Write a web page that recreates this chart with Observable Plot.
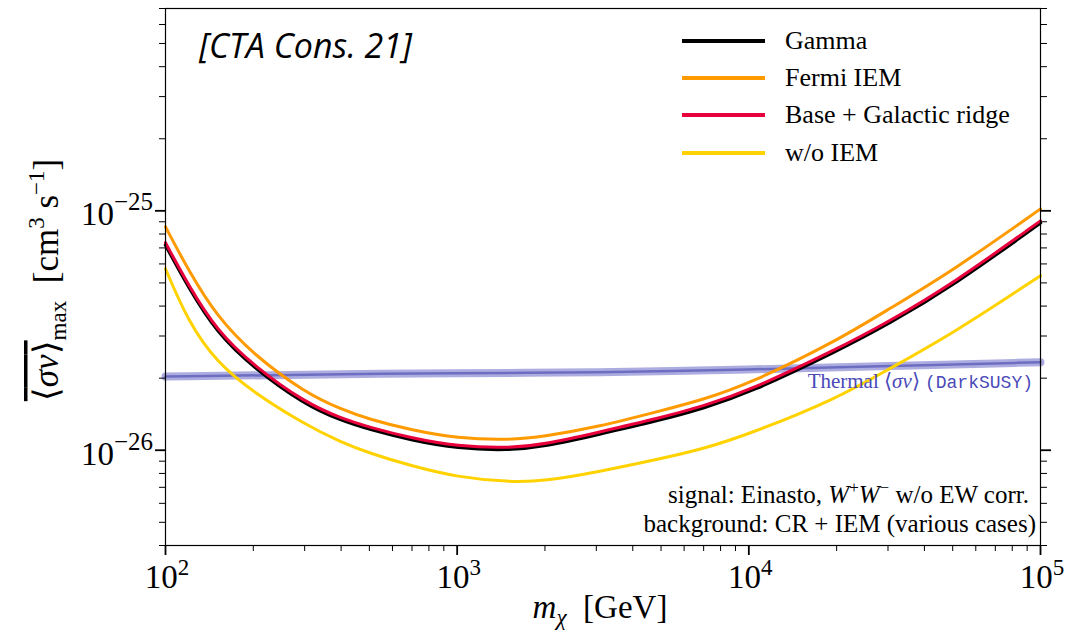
<!DOCTYPE html>
<html><head><meta charset="utf-8">
<script src="https://cdn.jsdelivr.net/npm/d3@7"></script>
<script src="https://cdn.jsdelivr.net/npm/@observablehq/plot@0.6"></script>
<style>
html,body{margin:0;padding:0;background:#fff;}
#chart{width:1068px;height:634px;}
svg{display:block;}
</style></head><body><div id="chart"></div>
<script>
// ---- data ----
const masses = [100,120,150,200,300,400,500,700,1000,1500,2000,3000,5000,7000,10000,20000,30000,50000,100000];
const gamma = [7.2e-26,4.77e-26,3.1e-26,2.215e-26,1.553e-26,1.332e-26,1.222e-26,1.1e-26,1.018e-26,0.999e-26,1.038e-26,1.159e-26,1.339e-26,1.5e-26,1.735e-26,2.59e-26,3.36e-26,4.86e-26,8.9e-26];
const fermiIEM = [8.58e-26,5.62e-26,3.62e-26,2.51e-26,1.744e-26,1.483e-26,1.346e-26,1.212e-26,1.122e-26,1.101e-26,1.144e-26,1.247e-26,1.462e-26,1.631e-26,1.891e-26,2.86e-26,3.87e-26,5.62e-26,1.019e-25];
const baseRidge = [7.36e-26,4.87e-26,3.16e-26,2.26e-26,1.585e-26,1.359e-26,1.247e-26,1.122e-26,1.039e-26,1.019e-26,1.059e-26,1.183e-26,1.366e-26,1.531e-26,1.77e-26,2.64e-26,3.43e-26,4.96e-26,9.08e-26];
const woIEM = [5.73e-26,3.41e-26,2.326e-26,1.744e-26,1.283e-26,1.08e-26,9.72e-27,8.58e-27,7.72e-27,7.36e-27,7.43e-27,8.09e-27,9.22e-27,1.014e-26,1.166e-26,1.64e-26,2.175e-26,3.07e-26,5.36e-26];
const thermalMasses = [100,300,1000,3000,10000,30000,100000];
const thermal = [2.03e-26,2.07e-26,2.10e-26,2.11e-26,2.17e-26,2.25e-26,2.33e-26];

const seriesNames = ["Gamma","Fermi IEM","Base + Galactic ridge","w/o IEM"];
const seriesColors = ["#000000","#ff9a00","#e8003c","#ffd200"];
const xMajor = [100,1000,10000,100000];
const xMinor = [200,300,400,500,600,700,800,900,2000,3000,4000,5000,6000,7000,8000,9000,20000,30000,40000,50000,60000,70000,80000,90000];
const yMajor = [1e-26,1e-25];
const yMinor = [4e-27,5e-27,6e-27,7e-27,8e-27,9e-27,2e-26,3e-26,4e-26,5e-26,6e-26,7e-26,8e-26,9e-26,2e-25,3e-25,4e-25,5e-25,6e-25,7e-25];
const xTickExp = ["2","3","4","5"];
const yTickExp = ["−26","−25"];

// ---- tables ----
const seriesValues = [gamma, fermiIEM, baseRidge, woIEM];
const rows = [];
seriesNames.forEach((s,k)=>masses.forEach((m,i)=>rows.push({series:s, m, v:seriesValues[k][i]})));
const thermalRows = thermalMasses.map((m,i)=>({m, v:thermal[i]}));
const bySeries = s => rows.filter(d=>d.series===s);

const W=1068, H=634;
const lineOf = (s,c,w)=>Plot.line(bySeries(s),{x:"m",y:"v",stroke:c,strokeWidth:w,curve:"basis"});

const chart = Plot.plot({
  width:W, height:H,
  marginLeft:165, marginRight:28, marginTop:8, marginBottom:89,
  style:{background:"#fff", fontFamily:"'Liberation Serif', serif", overflow:"visible"},
  x:{type:"log", domain:[100,1e5]},
  y:{type:"log", domain:[4e-27,7e-25]},
  marks:[
    Plot.line(thermalRows,{x:"m",y:"v",stroke:"#5a5ac4",strokeWidth:8,strokeOpacity:0.5,curve:"basis"}),
    Plot.line(thermalRows,{x:"m",y:"v",stroke:"#3a3aa8",strokeWidth:2.5,strokeOpacity:0.55,curve:"basis"}),
    lineOf("w/o IEM", seriesColors[3], 3),
    lineOf("Fermi IEM", seriesColors[1], 3),
    lineOf("Gamma", seriesColors[0], 3.4),
    lineOf("Base + Galactic ridge", seriesColors[2], 3),
    Plot.axisX({ticks:xMajor, tickSize:10, strokeWidth:1.8, tickFormat:()=>"", label:null}),
    Plot.axisX({ticks:xMinor, tickSize:6, strokeWidth:1, tickFormat:()=>"", label:null}),
    Plot.axisY({anchor:"left", ticks:yMajor, tickSize:10, strokeWidth:1.8, tickFormat:()=>"", label:null}),
    Plot.axisY({anchor:"left", ticks:yMinor, tickSize:6, strokeWidth:1, tickFormat:()=>"", label:null}),
    Plot.axisY({anchor:"right", ticks:yMajor, tickSize:10, strokeWidth:1.8, tickFormat:()=>"", label:null}),
    Plot.axisY({anchor:"right", ticks:yMinor, tickSize:6, strokeWidth:1, tickFormat:()=>"", label:null}),
    Plot.frame({stroke:"#000", strokeWidth:1.2})
  ]
});
document.getElementById("chart").appendChild(chart);

const sx = chart.scale("x"), sy = chart.scale("y");
const svg = d3.select(chart);
const serif = "'Liberation Serif', serif";

// x tick labels
xMajor.forEach((v,i)=>{
  const t = svg.append("text").attr("x", sx.apply(v)+2).attr("y", 588)
    .attr("text-anchor","middle").attr("font-family",serif).attr("font-size",33).attr("fill","#000");
  t.append("tspan").text("10");
  t.append("tspan").attr("dy",-13).attr("font-size",23).text(xTickExp[i]);
});
// y tick labels
yMajor.forEach((v,i)=>{
  const t = svg.append("text").attr("x", 153).attr("y", sy.apply(v)+15)
    .attr("text-anchor","end").attr("font-family",serif).attr("font-size",33).attr("fill","#000");
  t.append("tspan").text("10");
  t.append("tspan").attr("dy",-15).attr("font-size",25).text(yTickExp[i]);
});

// x title
{
  const t = svg.append("text").attr("x", 600).attr("y", 618).attr("text-anchor","middle")
    .attr("font-family",serif).attr("font-size",33).attr("fill","#000").attr("xml:space","preserve");
  t.append("tspan").attr("font-style","italic").text("m");
  t.append("tspan").attr("font-style","italic").attr("font-size",23).attr("dy",7).text("χ");
  t.append("tspan").attr("dy",-7).text("  [GeV]");
}
// y title (rotated)
{
  const t = svg.append("text").attr("transform","translate(58,280) rotate(-90)").attr("text-anchor","middle")
    .attr("font-family",serif).attr("font-size",35).attr("fill","#000").attr("xml:space","preserve");
  const ov = t.append("tspan").attr("text-decoration","overline");
  ov.append("tspan").text("⟨");
  ov.append("tspan").attr("font-style","italic").text("σv");
  ov.append("tspan").text("⟩");
  t.append("tspan").attr("font-size",23).attr("dy",8).text("max");
  t.append("tspan").attr("dy",-8).text("  [cm");
  t.append("tspan").attr("font-size",23).attr("dy",-14).text("3");
  t.append("tspan").attr("dy",14).text(" s");
  t.append("tspan").attr("font-size",23).attr("dy",-14).text("−1");
  t.append("tspan").attr("dy",14).text("]");
}

// CTA label
svg.append("text").attr("x",199).attr("y",58).attr("text-anchor","start")
  .attr("font-family","'Open Sans', sans-serif")
  .attr("font-style","italic").attr("font-size",34).attr("fill","#000").text("[CTA Cons. 21]");

// legend
const legY = [41,78,115,153];
seriesNames.forEach((s,i)=>{
  svg.append("line").attr("x1",682).attr("x2",765).attr("y1",legY[i]).attr("y2",legY[i])
    .attr("stroke",seriesColors[i]).attr("stroke-width",4);
  svg.append("text").attr("x",785).attr("y",legY[i]+8).attr("text-anchor","start")
    .attr("font-family",serif).attr("font-size",26).attr("fill","#000").text(s);
});

// thermal label
{
  const t = svg.append("text").attr("x",1033).attr("y",388).attr("text-anchor","end")
    .attr("fill","#4a4ab8").attr("font-family",serif).attr("font-size",21).attr("xml:space","preserve");
  t.append("tspan").text("Thermal ⟨");
  t.append("tspan").attr("font-style","italic").text("σv");
  t.append("tspan").text("⟩ ");
  t.append("tspan").attr("font-family","'Liberation Mono', monospace").attr("font-size",18).text("(DarkSUSY)");
}
// annotation
{
  const t1 = svg.append("text").attr("x",1029).attr("y",503).attr("text-anchor","end")
    .attr("font-family",serif).attr("font-size",25).attr("fill","#000");
  t1.append("tspan").text("signal: Einasto, ");
  t1.append("tspan").attr("font-style","italic").text("W");
  t1.append("tspan").attr("font-size",17).attr("dy",-10).text("+");
  t1.append("tspan").attr("font-style","italic").attr("dy",10).text("W");
  t1.append("tspan").attr("font-size",17).attr("dy",-10).text("−");
  t1.append("tspan").attr("dy",10).text(" w/o EW corr.");
  svg.append("text").attr("x",1036).attr("y",532).attr("text-anchor","end")
    .attr("font-family",serif).attr("font-size",25).attr("fill","#000")
    .text("background: CR + IEM (various cases)");
}
</script></body></html>
